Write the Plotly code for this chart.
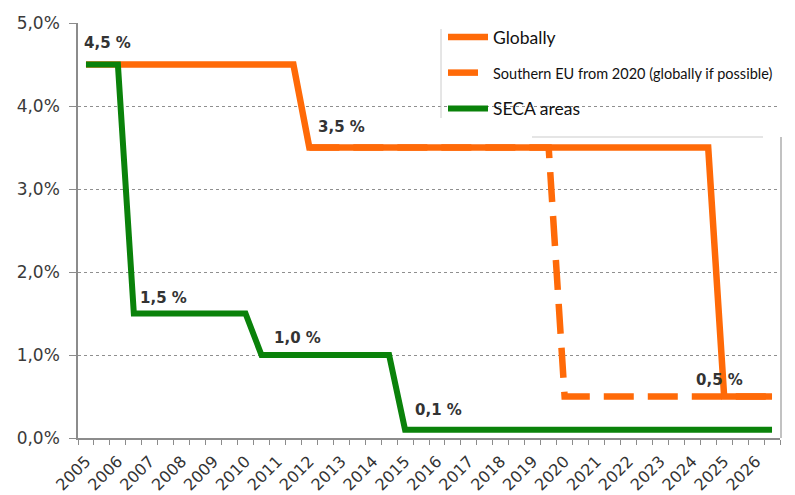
import plotly.graph_objects as go

# ---- data ----
year_labels = [str(y) for y in range(2005, 2027)]
year_ticks = list(range(2005, 2027))

glob_x = [2005.0, 2011.5, 2012.0, 2024.5, 2025.0, 2026.5]
glob_y = [4.5, 4.5, 3.5, 3.5, 0.5, 0.5]

south_x = [2012.0, 2019.5, 2020.0, 2026.5]
south_y = [3.5, 3.5, 0.5, 0.5]

seca_x = [2005.0, 2006.0, 2006.5, 2010.0, 2010.5, 2014.5, 2015.0, 2026.5]
seca_y = [4.5, 4.5, 1.5, 1.5, 1.0, 1.0, 0.1, 0.1]

label_text = ["4,5 %", "3,5 %", "1,5 %", "1,0 %", "0,1 %", "0,5 %"]
label_x = [2005.69, 2013.0, 2007.44, 2011.63, 2016.05, 2024.85]
label_y = [4.76, 3.75, 1.69, 1.2, 0.34, 0.70]

y_ticks = [0, 1, 2, 3, 4, 5]
y_labels = ["0,0%", "1,0%", "2,0%", "3,0%", "4,0%", "5,0%"]

ORANGE = "#ff6a08"
GREEN = "#0a820a"

# plot-area geometry (pixels) for paper-coordinate decorations
W, H = 795, 495
L, R, T, B = 78, 780, 23, 438


def px(x):
    return (x - L) / (R - L)


def py(y):
    return (B - y) / (B - T)


fig = go.Figure()
fig.add_trace(go.Scatter(
    x=glob_x, y=glob_y, mode="lines", name="Globally", legendgroup="a",
    line=dict(color=ORANGE, width=6.5), hoverinfo="skip"))
fig.add_trace(go.Scatter(
    x=south_x, y=south_y, mode="lines", legendgroup="b",
    name='<span style="font-size:14.5px">Southern EU from 2020 (globally if possible)</span>',
    line=dict(color=ORANGE, width=6.5, dash="30px,14px"), hoverinfo="skip"))
fig.add_trace(go.Scatter(
    x=seca_x, y=seca_y, mode="lines", name="SECA areas", legendgroup="c",
    line=dict(color=GREEN, width=6), hoverinfo="skip"))

for t, x, y in zip(label_text, label_x, label_y):
    fig.add_annotation(x=x, y=y, text="<b>" + t + "</b>", showarrow=False,
                       font=dict(family="DejaVu Sans", size=15, color="#333333"))

shapes = [
    # white legend box covering gridlines
    dict(type="rect", xref="paper", yref="paper", x0=px(441), x1=px(795),
         y0=py(135), y1=py(29), fillcolor="white", line=dict(width=0), layer="between"),
    dict(type="rect", xref="paper", yref="paper", x0=px(478), x1=px(795),
         y0=py(31), y1=py(15), fillcolor="white", line=dict(width=0), layer="between"),
    dict(type="line", xref="paper", yref="paper", x0=px(441), x1=px(441),
         y0=py(118), y1=py(29), line=dict(color="#cccccc", width=1)),
    dict(type="line", xref="paper", yref="paper", x0=px(532), x1=px(763),
         y0=py(137), y1=py(137), line=dict(color="#cccccc", width=1.2)),
    dict(type="line", xref="paper", yref="paper", x0=px(781), x1=px(781),
         y0=py(438), y1=py(137), line=dict(color="#999999", width=1.2)),
]

fig.update_layout(
    width=W, height=H,
    margin=dict(l=L, r=W - R, t=T, b=H - B),
    paper_bgcolor="white", plot_bgcolor="white",
    shapes=shapes,
    showlegend=True,
    legend=dict(x=px(443), y=py(19), xanchor="left", yanchor="top",
                bgcolor="rgba(0,0,0,0)", tracegroupgap=10, itemwidth=40,
                font=dict(family="Lato", size=17.5, color="#111111")),
    xaxis=dict(
        range=[2004.75, 2026.75], automargin=False,
        tickmode="array", tickvals=year_ticks, ticktext=year_labels,
        tickangle=-45, ticks="", ticklabelstandoff=6,
        tickfont=dict(family="DejaVu Sans", size=16, color="#333333"),
        showgrid=False, zeroline=False,
        showline=True, linecolor="#8c8c8c", linewidth=1.5,
        minor=dict(ticks="outside", tickmode="linear", tick0=2004.75, dtick=0.5,
                   ticklen=5, tickcolor="#8c8c8c", tickwidth=1.2, showgrid=False),
    ),
    yaxis=dict(
        range=[0, 5.0], automargin=False,
        tickmode="array", tickvals=y_ticks, ticktext=y_labels,
        ticks="outside", ticklen=7, tickcolor="#8c8c8c", tickwidth=1,
        ticklabelstandoff=6,
        tickfont=dict(family="DejaVu Sans", size=17, color="#3a3a3a"),
        showgrid=True, gridcolor="#8f8f8f", gridwidth=1, griddash="dot",
        zeroline=False, showline=True, linecolor="#8c8c8c", linewidth=1.5,
    ),
)

fig.write_html("out.html")
